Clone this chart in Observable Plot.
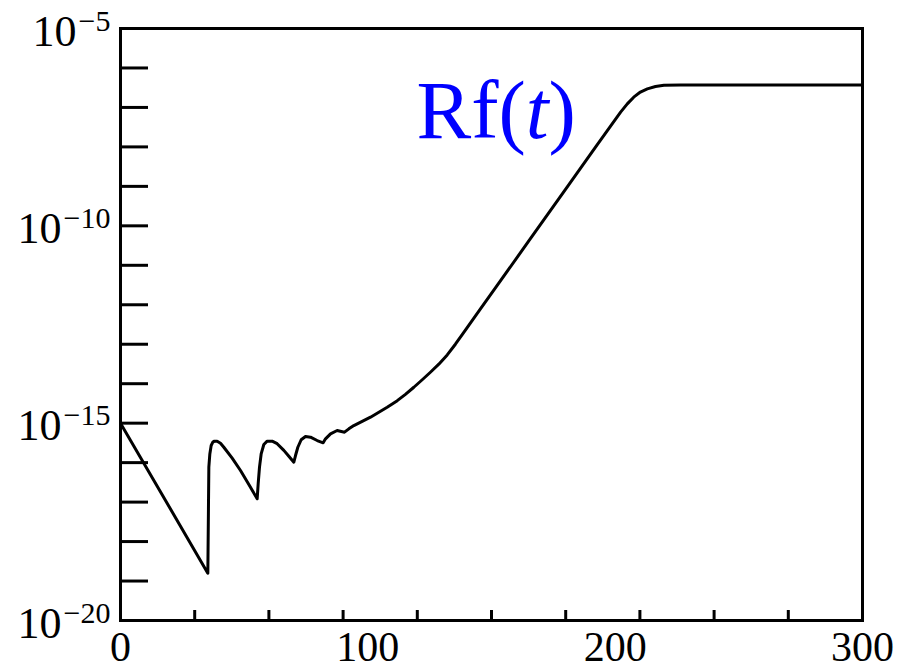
<!DOCTYPE html>
<html>
<head>
<meta charset="utf-8">
<script src="https://cdn.jsdelivr.net/npm/d3@7"></script>
<script src="https://cdn.jsdelivr.net/npm/@observablehq/plot@0.6"></script>
<style>
  html, body { margin: 0; padding: 0; background: white; }
</style>
</head>
<body>
<div id="chart"></div>
<script>
// ---- data (t, log10 Rf) ----
const tValues = [0, 35.31, 35.72, 36.12, 36.66, 37.33, 38.0, 39.08, 40.43, 41.78, 45.15, 48.52, 51.89, 55.26,
  55.66, 56.2, 56.87, 57.95, 59.3, 61.32, 63.34, 66.04, 68.06, 70.08,
  70.76, 71.7, 73.05, 74.8, 76.82, 79.52, 81.94,
  82.89, 84.91, 87.6, 90.57, 92.32, 94.34, 101.08, 107.82,
  111.9, 115.2, 118.6, 122, 125.3, 128.7, 132.1, 135.4, 138.8, 145.6, 152.3, 165.8, 179.2, 192.7, 202.2,
  204.9, 207.5, 210.2, 213.0, 216.3, 219.7, 226.4, 300];
const log10Rf = [-15.00, -18.80, -16.115, -15.78, -15.566, -15.48, -15.456, -15.456, -15.507, -15.61, -15.887, -16.20, -16.554, -16.917,
  -16.537, -16.115, -15.78, -15.54, -15.456, -15.456, -15.52, -15.69, -15.84, -15.988,
  -15.82, -15.61, -15.42, -15.338, -15.355, -15.44, -15.498,
  -15.397, -15.27, -15.186, -15.228, -15.144, -15.06, -14.848, -14.595,
  -14.43, -14.27, -14.09, -13.90, -13.71, -13.506, -13.27, -13.0, -12.70, -12.10, -11.51, -10.32, -9.14, -7.95, -7.12,
  -6.91, -6.74, -6.61, -6.53, -6.47, -6.44, -6.43, -6.43];
const yLabelExponents = [-20, -15, -10, -5];
const yTickExponents = [-19, -18, -17, -16, -15, -14, -13, -12, -11, -10, -9, -8, -7, -6];
const xTickLabels = [0, 100, 200, 300];
const xMinorTicks = [30, 60, 90, 120, 150, 180, 210, 240, 270];
const seriesLabel = "Rf(t)";

const data = tValues.map((t, i) => ({t, v: Math.pow(10, log10Rf[i])}));

const W = 901, H = 671, mL = 120, mR = 39, mT = 28, mB = 51;
const innerW = W - mL - mR, innerH = H - mT - mB;

const chart = Plot.plot({
  width: W, height: H,
  marginLeft: mL, marginRight: mR, marginTop: mT, marginBottom: mB,
  style: {fontFamily: "'Liberation Serif', 'Times New Roman', serif", background: "white", overflow: "visible", color: "black"},
  x: {domain: [0, 300], axis: null},
  y: {type: "log", domain: [1e-20, 1e-5], axis: null},
  marks: [
    Plot.ruleY(yTickExponents, {y: e => Math.pow(10, e), insetRight: innerW - 28, stroke: "black", strokeWidth: 3}),
    Plot.ruleX(xMinorTicks, {x: d => d, insetTop: innerH - 10, stroke: "black", strokeWidth: 3}),
    Plot.line(data, {x: "t", y: "v", curve: "linear", stroke: "black", strokeWidth: 3, strokeLinejoin: "round"}),
    Plot.frame({stroke: "black", strokeWidth: 3}),
    Plot.text(yLabelExponents, {
      y: e => Math.pow(10, e), frameAnchor: "left", dx: -10, dy: 3,
      textAnchor: "end", lineAnchor: "middle", fontSize: 44, fill: "black",
      text: e => "10\u2212" + Math.abs(e)
    }),
    Plot.text(xTickLabels, {
      x: d => d, frameAnchor: "bottom", dy: 11, lineAnchor: "top",
      fontSize: 42, fill: "black", text: d => String(d)
    }),
    Plot.text([seriesLabel], {
      frameAnchor: "top-left", dx: 296, dy: 109, lineAnchor: "bottom", textAnchor: "start",
      fontSize: 82, fill: "blue", text: d => d
    })
  ]
});

// superscripts and italic t
const NS = "http://www.w3.org/2000/svg";
chart.querySelectorAll("text").forEach(el => {
  const s = el.textContent;
  if (/^10\u2212\d+$/.test(s)) {
    el.textContent = "10";
    const sup = document.createElementNS(NS, "tspan");
    sup.setAttribute("font-size", "30");
    sup.setAttribute("dy", "-15");
    sup.setAttribute("dx", "2");
    sup.textContent = s.slice(2);
    el.appendChild(sup);
  } else if (s === "Rf(t)") {
    el.textContent = "Rf(";
    const it = document.createElementNS(NS, "tspan");
    it.setAttribute("font-style", "italic");
    it.textContent = "t";
    el.appendChild(it);
    const close = document.createElementNS(NS, "tspan");
    close.textContent = ")";
    el.appendChild(close);
  }
});

document.getElementById("chart").appendChild(chart);
</script>
</body>
</html>
